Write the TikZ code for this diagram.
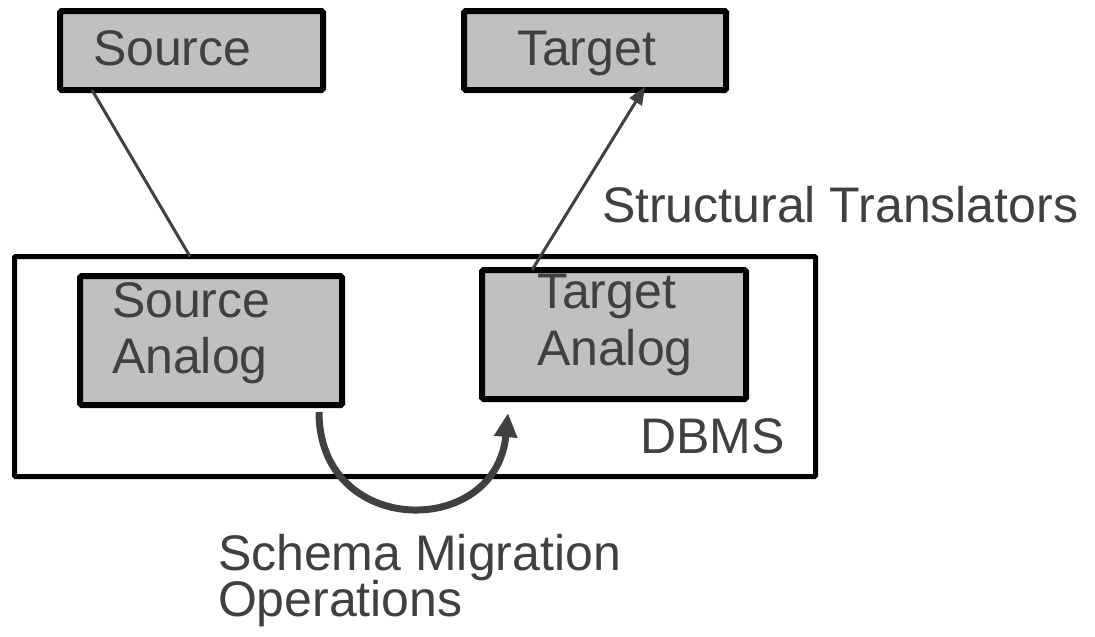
\documentclass[tikz,border=0pt]{standalone}
\usepackage{fontspec}
\setmainfont{Liberation Sans}
\usetikzlibrary{arrows.meta}
\definecolor{ink}{HTML}{404040}
\definecolor{boxgray}{HTML}{C0C0C0}
\begin{document}
\begin{tikzpicture}[x=1pt,y=-1pt,
  box/.style={draw=black,fill=boxgray,line width=6pt,outer sep=0pt,inner sep=0pt,rounded corners=1.5pt},
  frame/.style={draw=black,fill=white,line width=5pt,outer sep=0pt,inner sep=0pt,rounded corners=1pt},
  lbl/.style={text=ink,inner sep=0pt,outer sep=0pt,anchor=base west,font=\fontsize{50}{56}\selectfont},
  conn/.style={draw=ink,line width=3pt},
  bigarrow/.style={draw=ink,line width=7pt,-{Triangle[length=24pt,width=22pt]}},
]
\useasboundingbox[fill=white] (0,0) rectangle (1095,637);

% boxes
\node[box,minimum width=263pt,minimum height=79pt] (src) at (191.5,50.5) {};
\node[box,minimum width=262pt,minimum height=79pt] (tgt) at (595,50.5) {};
\node[frame,minimum width=801pt,minimum height=220pt] (dbms) at (415,366.5) {};
\node[box,minimum width=262pt,minimum height=129pt] (sa) at (211,340.5) {};
\node[box,minimum width=264pt,minimum height=129pt] (ta) at (614,334.5) {};

% labels
\node[lbl] (srcT) at (93,65) {Source};
\node[lbl] (tgtT) at (517,65) {Target};
\node[lbl] (saT1) at (112,317) {Source};
\node[lbl] (saT2) at (112,373) {Analog};
\node[lbl] (taT1) at (537,308) {Target};
\node[lbl] (taT2) at (537,365) {Analog};
\node[lbl] (dbmsT) at (640,453) {DBMS};
\node[lbl] (stT) at (602,222) {Structural Translators};
\node[lbl] (smT1) at (218,570) {Schema Migration};
\node[lbl] (smT2) at (218,616) {Operations};

% connectors
\draw[conn] ([xshift=32pt]src.south west) -- ([xshift=175.5pt]dbms.north west);
\draw[conn,-{Triangle[length=18pt,width=14pt]},shorten >=-4pt] ([xshift=50pt]ta.north west) -- ([xshift=179pt]tgt.south west);
\draw[bigarrow] ([xshift=239pt,yshift=-7pt]sa.south west) .. controls +(0,126) and +(-12,126) .. ([xshift=26pt,yshift=-14pt]ta.south west);
\end{tikzpicture}
\end{document}
